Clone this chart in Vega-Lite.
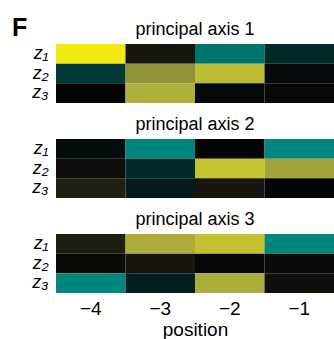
{
  "$schema": "https://vega.github.io/schema/vega-lite/v6.json",
  "padding": {"left": 12, "top": 16, "right": 0, "bottom": 0},
  "background": "white",
  "title": {"text": "F", "anchor": "start", "frame": "bounds", "fontSize": 25, "font": "Liberation Sans", "fontWeight": "bold", "color": "black", "offset": -20},
  "config": {
    "view": {"stroke": null},
    "font": "Liberation Sans",
    "title": {"fontSize": 18, "fontWeight": "normal", "font": "Liberation Sans", "offset": 5, "color": "black"},
    "axis": {"ticks": false, "domain": false, "grid": false, "labelColor": "black", "titleColor": "black", "labelFont": "Liberation Sans", "titleFont": "Liberation Sans"},
    "axisY": {"minExtent": 44, "maxExtent": 44}
  },
  "datasets": {
    "cells": [
      {"axis": 1, "latent": "z₁", "position": -4, "weight": 1.0},
      {"axis": 1, "latent": "z₁", "position": -3, "weight": 0.1},
      {"axis": 1, "latent": "z₁", "position": -2, "weight": -0.8},
      {"axis": 1, "latent": "z₁", "position": -1, "weight": -0.25},
      {"axis": 1, "latent": "z₂", "position": -4, "weight": -0.35},
      {"axis": 1, "latent": "z₂", "position": -3, "weight": 0.55},
      {"axis": 1, "latent": "z₂", "position": -2, "weight": 0.77},
      {"axis": 1, "latent": "z₂", "position": -1, "weight": -0.03},
      {"axis": 1, "latent": "z₃", "position": -4, "weight": 0.0},
      {"axis": 1, "latent": "z₃", "position": -3, "weight": 0.72},
      {"axis": 1, "latent": "z₃", "position": -2, "weight": -0.02},
      {"axis": 1, "latent": "z₃", "position": -1, "weight": -0.02},
      {"axis": 2, "latent": "z₁", "position": -4, "weight": -0.04},
      {"axis": 2, "latent": "z₁", "position": -3, "weight": -1.0},
      {"axis": 2, "latent": "z₁", "position": -2, "weight": 0.0},
      {"axis": 2, "latent": "z₁", "position": -1, "weight": -1.0},
      {"axis": 2, "latent": "z₂", "position": -4, "weight": 0.04},
      {"axis": 2, "latent": "z₂", "position": -3, "weight": -0.25},
      {"axis": 2, "latent": "z₂", "position": -2, "weight": 0.85},
      {"axis": 2, "latent": "z₂", "position": -1, "weight": 0.65},
      {"axis": 2, "latent": "z₃", "position": -4, "weight": 0.15},
      {"axis": 2, "latent": "z₃", "position": -3, "weight": -0.1},
      {"axis": 2, "latent": "z₃", "position": -2, "weight": 0.1},
      {"axis": 2, "latent": "z₃", "position": -1, "weight": 0.0},
      {"axis": 3, "latent": "z₁", "position": -4, "weight": 0.14},
      {"axis": 3, "latent": "z₁", "position": -3, "weight": 0.7},
      {"axis": 3, "latent": "z₁", "position": -2, "weight": 0.83},
      {"axis": 3, "latent": "z₁", "position": -1, "weight": -1.0},
      {"axis": 3, "latent": "z₂", "position": -4, "weight": 0.03},
      {"axis": 3, "latent": "z₂", "position": -3, "weight": 0.1},
      {"axis": 3, "latent": "z₂", "position": -2, "weight": -0.01},
      {"axis": 3, "latent": "z₂", "position": -1, "weight": 0.03},
      {"axis": 3, "latent": "z₃", "position": -4, "weight": -1.0},
      {"axis": 3, "latent": "z₃", "position": -3, "weight": -0.15},
      {"axis": 3, "latent": "z₃", "position": -2, "weight": 0.7},
      {"axis": 3, "latent": "z₃", "position": -1, "weight": 0.06}
    ]
  },
  "spacing": 13,
  "resolve": {"scale": {"color": "shared", "x": "shared"}},
  "vconcat": [
    {
      "width": 278, "height": 59,
      "title": "principal axis 1",
      "data": {"name": "cells"},
      "transform": [{"filter": "datum.axis == 1"}],
      "mark": {"type": "rect"},
      "encoding": {
        "x": {"field": "position", "type": "ordinal", "axis": null, "scale": {"paddingInner": 0, "paddingOuter": 0}},
        "y": {"field": "latent", "type": "ordinal", "title": null, "axis": {"labelFontSize": 18, "labelFontStyle": "italic", "labelPadding": 8, "labelAngle": 0}},
        "color": {"field": "weight", "type": "quantitative", "legend": null,
          "scale": {"type": "linear", "interpolate": "rgb",
            "domain": [-1, -0.8, -0.35, -0.25, -0.1, 0, 0.1, 0.15, 0.55, 0.65, 0.72, 0.77, 0.85, 1],
            "range": ["#00867f", "#00736e", "#023a3a", "#032a2a", "#061a1c", "#050505", "#18160c", "#202012", "#8f9238", "#a2a33a", "#afb038", "#bbbd35", "#c4c42f", "#f3e90e"]}}
      }
    },
    {
      "width": 278, "height": 59,
      "title": "principal axis 2",
      "data": {"name": "cells"},
      "transform": [{"filter": "datum.axis == 2"}],
      "mark": {"type": "rect"},
      "encoding": {
        "x": {"field": "position", "type": "ordinal", "axis": null, "scale": {"paddingInner": 0, "paddingOuter": 0}},
        "y": {"field": "latent", "type": "ordinal", "title": null, "axis": {"labelFontSize": 18, "labelFontStyle": "italic", "labelPadding": 8, "labelAngle": 0}},
        "color": {"field": "weight", "type": "quantitative", "legend": null}
      }
    },
    {
      "width": 278, "height": 59,
      "title": "principal axis 3",
      "data": {"name": "cells"},
      "transform": [{"filter": "datum.axis == 3"}],
      "mark": {"type": "rect"},
      "encoding": {
        "x": {"field": "position", "type": "ordinal", "title": "position", "scale": {"paddingInner": 0, "paddingOuter": 0},
          "axis": {"labelFontSize": 19, "labelAngle": 0, "labelPadding": 6, "titleFontSize": 19, "titleFontWeight": "normal", "titlePadding": 2, "labelExpr": "replace(datum.label, '-', '\u2212')"}},
        "y": {"field": "latent", "type": "ordinal", "title": null, "axis": {"labelFontSize": 18, "labelFontStyle": "italic", "labelPadding": 8, "labelAngle": 0}},
        "color": {"field": "weight", "type": "quantitative", "legend": null}
      }
    }
  ]
}
